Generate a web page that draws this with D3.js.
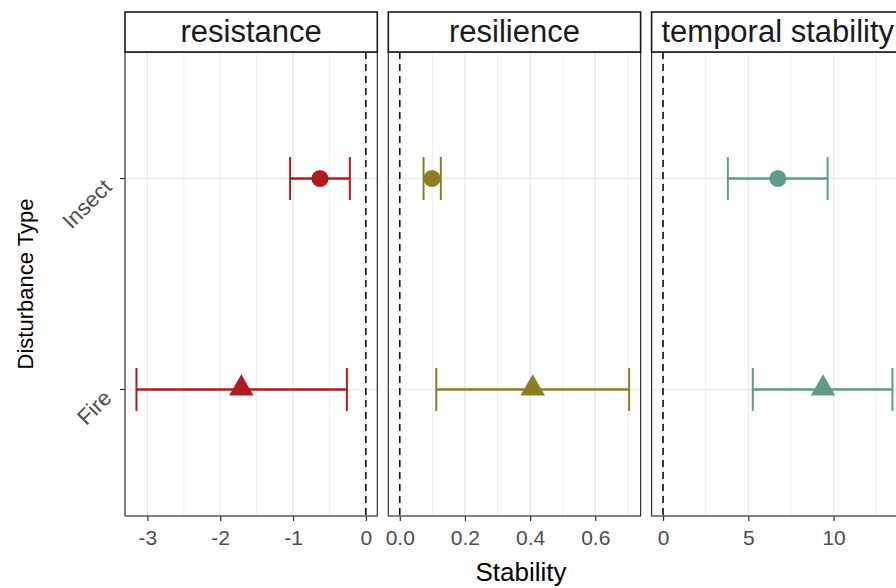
<!DOCTYPE html>
<html>
<head>
<meta charset="utf-8">
<script src="https://cdn.jsdelivr.net/npm/d3@7"></script>
<style>
  body { margin: 0; background: #fff; }
  svg { display: block; font-family: "Liberation Sans", Arial, sans-serif; }
</style>
</head>
<body>
<svg id="chart" width="896" height="588"></svg>
<script>
// data
const facets = ['resistance', 'resilience', 'temporal stability'];
const disturbances = ['Insect', 'Fire'];
const estimates = [[-0.63, -1.71], [0.099, 0.408], [6.73, 9.38]];
const lowers = [[-1.04, -3.15], [0.073, 0.112], [3.80, 5.26]];
const uppers = [[-0.22, -0.26], [0.126, 0.704], [9.65, 13.45]];
const majorTicks = [[-3, -2, -1, 0], [0, 0.2, 0.4, 0.6], [0, 5, 10]];
const minorTicks = [[-2.5, -1.5, -0.5], [0.1, 0.3, 0.5, 0.7], [2.5, 7.5, 12.5]];
const colors = ['#b01c1e', '#8c7e22', '#5e9b8b'];

const svg = d3.select('#chart');

const PANEL_LEFT = 125;
const PANEL_W = 252.3;
const PANEL_GAP = 11;
const STRIP_TOP = 12;
const STRIP_H = 40;
const PANEL_TOP = STRIP_TOP + STRIP_H;
const PANEL_BOTTOM = 516;
const TICK_FONT = 21;

// discrete y, ggplot style expansion of 0.6
const y = d3.scalePoint()
    .domain(disturbances)
    .range([PANEL_TOP, PANEL_BOTTOM])
    .padding(0.6);

const shapes = [d3.symbolCircle, d3.symbolTriangle];
const shapeSizes = [230, 260];

facets.forEach((facet, f) => {
    const x0 = PANEL_LEFT + f * (PANEL_W + PANEL_GAP);
    const lo = d3.min([0].concat(lowers[f]));
    const hi = d3.max([0].concat(uppers[f]));
    const pad = (hi - lo) * 0.05;
    const x = d3.scaleLinear().domain([lo - pad, hi + pad]).range([x0, x0 + PANEL_W]);

    const g = svg.append('g').classed('panel', true);

    // grid
    g.selectAll('.minor').data(minorTicks[f]).enter().append('line')
        .attr('x1', d => x(d)).attr('x2', d => x(d))
        .attr('y1', PANEL_TOP).attr('y2', PANEL_BOTTOM)
        .attr('stroke', '#ebebeb').attr('stroke-width', 0.8);
    g.selectAll('.major').data(majorTicks[f]).enter().append('line')
        .attr('x1', d => x(d)).attr('x2', d => x(d))
        .attr('y1', PANEL_TOP).attr('y2', PANEL_BOTTOM)
        .attr('stroke', '#ebebeb').attr('stroke-width', 1.5);
    g.selectAll('.hgrid').data(disturbances).enter().append('line')
        .attr('x1', x0).attr('x2', x0 + PANEL_W)
        .attr('y1', d => y(d)).attr('y2', d => y(d))
        .attr('stroke', '#ebebeb').attr('stroke-width', 1.5);

    // reference line at zero
    g.append('line')
        .attr('x1', x(0)).attr('x2', x(0))
        .attr('y1', PANEL_TOP).attr('y2', PANEL_BOTTOM)
        .attr('stroke', '#111').attr('stroke-width', 1.6)
        .attr('stroke-dasharray', '7,5');

    // error bars
    disturbances.forEach((d, i) => {
        const cy = y(d);
        g.append('line')
            .attr('x1', x(lowers[f][i])).attr('x2', x(uppers[f][i]))
            .attr('y1', cy).attr('y2', cy)
            .attr('stroke', colors[f]).attr('stroke-width', 2.6);
        [lowers[f][i], uppers[f][i]].forEach(v => {
            g.append('line')
                .attr('x1', x(v)).attr('x2', x(v))
                .attr('y1', cy - 21.5).attr('y2', cy + 21.5)
                .attr('stroke', colors[f]).attr('stroke-width', 2);
        });
        g.append('path')
            .attr('d', d3.symbol().type(shapes[i]).size(shapeSizes[i])())
            .attr('transform', 'translate(' + x(estimates[f][i]) + ',' + (cy - (i === 1 ? 1 : 0)) + ')')
            .attr('fill', colors[f]);
    });

    // panel border
    g.append('rect')
        .attr('x', x0).attr('y', PANEL_TOP)
        .attr('width', PANEL_W).attr('height', PANEL_BOTTOM - PANEL_TOP)
        .attr('fill', 'none').attr('stroke', '#333').attr('stroke-width', 1.2);

    // strip
    g.append('rect')
        .attr('x', x0).attr('y', STRIP_TOP)
        .attr('width', PANEL_W).attr('height', STRIP_H)
        .attr('fill', '#fff').attr('stroke', '#1a1a1a').attr('stroke-width', 1.6);
    g.append('text')
        .text(facet)
        .attr('x', x0 + PANEL_W / 2).attr('y', STRIP_TOP + STRIP_H / 2 + 10)
        .attr('text-anchor', 'middle')
        .attr('font-size', 31)
        .attr('fill', '#1a1a1a');

    // x axis
    const axis = d3.axisBottom(x)
        .tickValues(majorTicks[f])
        .tickSize(5)
        .tickPadding(9)
        .tickFormat(f === 1 ? d3.format('.1f') : d3.format('d'));
    const ag = g.append('g')
        .attr('transform', 'translate(0,' + PANEL_BOTTOM + ')')
        .call(axis);
    ag.select('.domain').remove();
    ag.selectAll('.tick line').attr('stroke', '#333').attr('stroke-width', 1.2);
    ag.selectAll('.tick text')
        .attr('font-size', TICK_FONT)
        .attr('font-family', '"Liberation Sans", Arial, sans-serif')
        .attr('fill', '#4d4d4d')
        .text(function () { return d3.select(this).text().replace('\u2212', '-'); });
});

// y axis ticks and labels
const yg = svg.append('g');
yg.selectAll('line').data(disturbances).enter().append('line')
    .attr('x1', PANEL_LEFT - 5).attr('x2', PANEL_LEFT)
    .attr('y1', d => y(d)).attr('y2', d => y(d))
    .attr('stroke', '#333').attr('stroke-width', 1.2);
yg.selectAll('text').data(disturbances).enter().append('text')
    .text(d => d)
    .attr('text-anchor', 'end')
    .attr('font-size', 22)
    .attr('fill', '#4d4d4d')
    .attr('transform', d => 'translate(' + (PANEL_LEFT - 12) + ',' + (y(d) + 10) + ') rotate(-45)');

// axis titles
svg.append('text')
    .text('Stability')
    .attr('x', 521).attr('y', 581)
    .attr('text-anchor', 'middle')
    .attr('font-size', 26)
    .attr('fill', '#000');

svg.append('text')
    .text('Disturbance Type')
    .attr('transform', 'translate(33,' + ((PANEL_TOP + PANEL_BOTTOM) / 2) + ') rotate(-90)')
    .attr('text-anchor', 'middle')
    .attr('font-size', 22)
    .attr('fill', '#000');
</script>
</body>
</html>
